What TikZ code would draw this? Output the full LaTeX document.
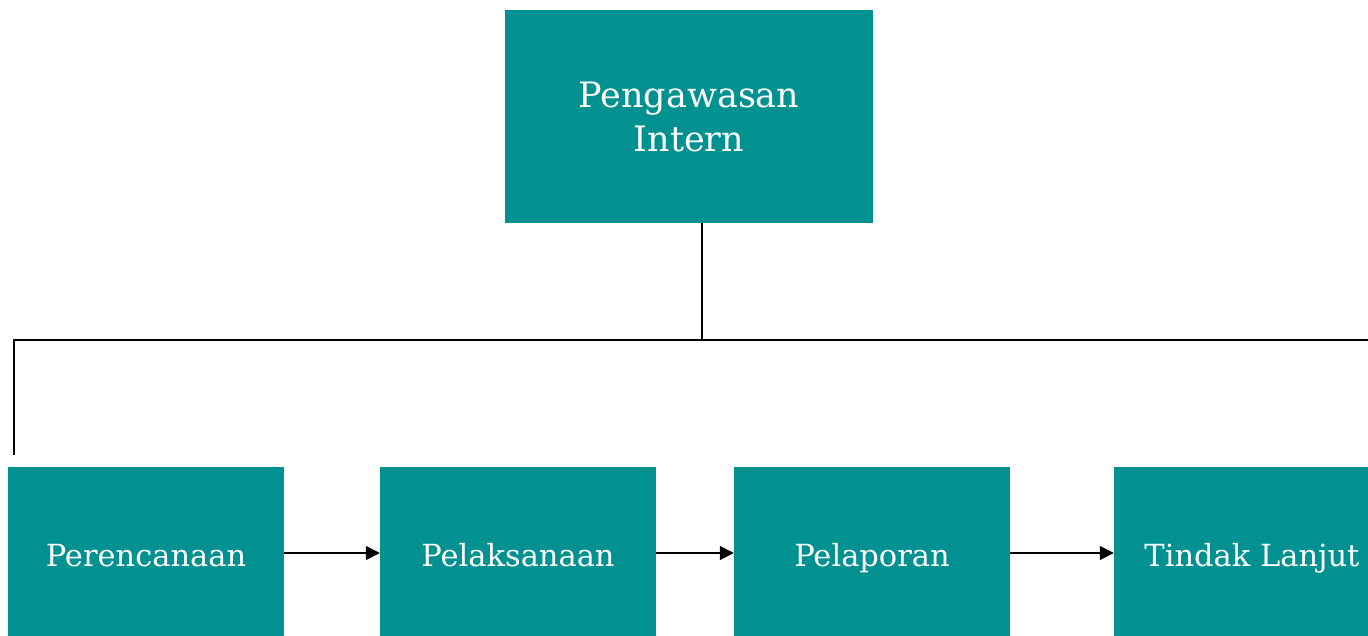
\documentclass[tikz,border=0pt]{standalone}
\usepackage{fontspec}
\setmainfont{DejaVu Serif}
\usepackage{tikz}
\usetikzlibrary{arrows.meta}
\definecolor{tosca}{RGB}{0,145,144}

\begin{document}
\begin{tikzpicture}[x=1pt,y=-1pt,
		kotak/.style={fill=tosca, text=white, minimum width=276pt, minimum height=172pt, inner sep=0pt, text height=27pt, text depth=0pt, font=\fontsize{30.5}{36}\selectfont},
		panah/.style={line width=1.6pt, -{Triangle[length=14pt,width=14pt]}}]
		\clip (0,0) rectangle (1368,635);
		\useasboundingbox (0,0) rectangle (1368,635);

		% Koordinaten
		\coordinate (atas) at (702,340);
		\coordinate (kiri) at (14,340);
		\coordinate (kiri_bawah) at (14,455);
		\coordinate (kanan) at (1368,340);

		% Kotak
		\node[kotak, minimum width=368pt, minimum height=213pt, text height=, text depth=, align=center, font=\fontsize{35}{44}\selectfont] (pi) at (689,116.5) {Pengawasan\\Intern};
		\node[kotak] (ren) at (146,553) {Perencanaan};
		\node[kotak] (lak) at (518,553) {Pelaksanaan};
		\node[kotak] (lap) at (872,553) {Pelaporan};
		\node[kotak] (tl) at (1252,553) {Tindak Lanjut};

		% Garis
		\draw[line width=1.6pt] (pi.south -| atas) -- (atas);
		\draw[line width=1.3pt] (kiri_bawah) -- (kiri) -- (kanan);

		% Panah
		\draw[panah] (ren) -- (lak);
		\draw[panah] (lak) -- (lap);
		\draw[panah] (lap) -- (tl);
	\end{tikzpicture}
\end{document}
